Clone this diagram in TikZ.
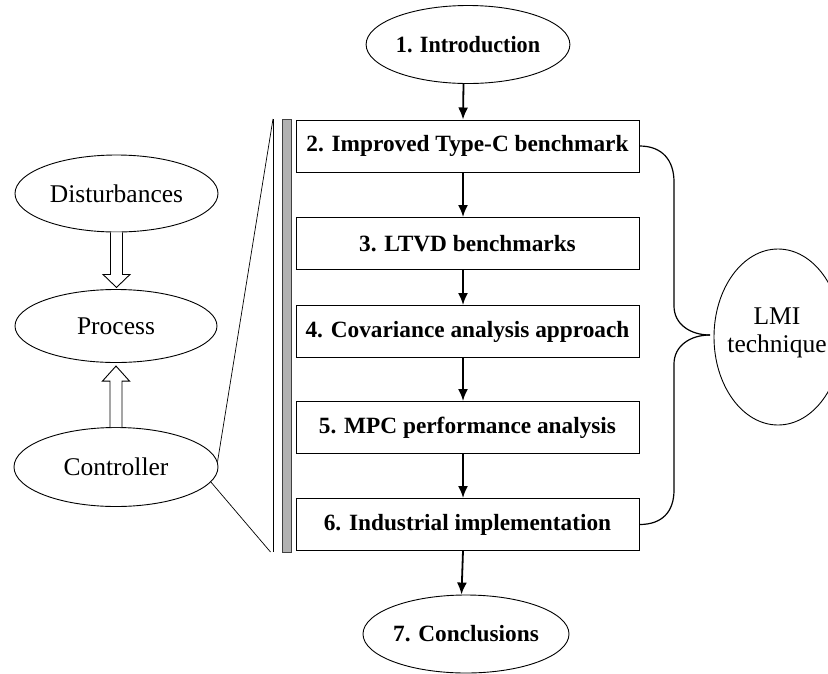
\documentclass[tikz,border=0pt]{standalone}
\usepackage{fontspec}
\setmainfont{Liberation Serif}
\newfontfamily\introfont[FakeStretch=0.95]{Liberation Serif}
\usetikzlibrary{shapes.geometric,arrows.meta,calc}
\tikzset{
  stepbox/.style={draw, line width=1pt, minimum width=343pt, minimum height=52pt, inner sep=0pt,
    font=\fontsize{23.3}{28}\selectfont\bfseries},
  oval/.style={draw, ellipse, line width=0.9pt, inner sep=0pt},
  boldtxt/.style={font=\fontsize{23.3}{28}\selectfont\bfseries},
  regtxt/.style={font=\fontsize{25.5}{30}\selectfont},
  arr/.style={line width=1.8pt, -{Latex[length=12pt,width=10pt]}},
  hollow/.style={draw, line width=0.9pt, fill=white, line join=miter},
  thinline/.style={line width=0.7pt},
}
\begin{document}
\begin{tikzpicture}[x=1pt,y=-1pt]
\useasboundingbox (0,0) rectangle (828,673);
% left ellipses
\node[oval, minimum width=203pt, minimum height=77pt, regtxt] (dist) at (116.5,193.5) {Disturbances};
\node[oval, minimum width=202pt, minimum height=73pt, regtxt] (proc) at (116,326) {Process};
\node[oval, minimum width=204pt, minimum height=79pt, regtxt] (ctrl) at (116,467) {Controller};
% hollow arrows
\draw[hollow] ($(dist.south)+(-6,0)$) -- ++(0,42) -- ++(-7.5,0) -- ++(13.5,13) -- ++(13.5,-13) -- ++(-7.5,0) -- ++(0,-42);
\draw[hollow] ($(ctrl.north)+(-6,0)$) -- ++(0,-46) -- ++(-7.5,0) -- ++(13.5,-15) -- ++(13.5,15) -- ++(-7.5,0) -- ++(0,46);
% main flow
\node[oval, minimum width=202pt, minimum height=78pt, boldtxt] (intro) at (468,44.5) {\introfont\bfseries 1. Introduction};
\node[stepbox] (b2) at (467.5,146) {2. Improved Type-C benchmark};
\node[stepbox] (b3) at (467.5,243.5) {3. LTVD benchmarks\hspace{9pt}};
\node[stepbox] (b4) at (467.5,331.5) {4. Covariance analysis approach};
\node[stepbox] (b5) at (467.5,427.5) {5. MPC performance analysis\hspace{22pt}};
\node[stepbox] (b6) at (467.5,524.5) {6. Industrial implementation};
\node[oval, minimum width=202pt, minimum height=78pt, boldtxt] (concl) at (466,634) {7. Conclusions};
\draw[arr] ([xshift=-4.5pt]intro.south) -- ([xshift=-4.5pt]b2.north);
\draw[arr] ([xshift=-4.5pt]b2.south) -- ([xshift=-4.5pt]b3.north);
\draw[arr] ([xshift=-4.5pt]b3.south) -- ([xshift=-4.5pt]b4.north);
\draw[arr] ([xshift=-4.5pt]b4.south) -- ([xshift=-4.5pt]b5.north);
\draw[arr] ([xshift=-4.5pt]b5.south) -- ([xshift=-4.5pt]b6.north);
\draw[arr] ([xshift=-4.5pt]b6.south) -- ([xshift=-4.5pt]concl.north);
% gray bar and zoom lines
\node[draw=black!75, fill=black!30, line width=0.9pt, minimum width=9pt, minimum height=433pt, inner sep=0pt] (bar) at (286.5,335.5) {};
\coordinate (vtop) at (273,119);
\coordinate (vbot) at (273,552);
\coordinate (vbotd) at (270.5,552);
\draw[thinline] (vtop) -- (vbot);
\draw[thinline] (vtop) -- (ctrl.3);
\draw[thinline] (ctrl.-9) -- (vbotd);
% LMI
\node[oval, minimum width=128pt, minimum height=176pt] (lmi) at (778,337) {};
\node[regtxt, align=center, inner sep=0pt] (lmitxt) at (777,333) {LMI\\[-2pt]technique};
\coordinate (tip) at (710,335);
\draw[line width=1.2pt] (b2.east) .. controls (662,146) and (674,160) .. (674,182) -- (674,306)
  .. controls (674,324) and (690,335) .. (tip);
\draw[line width=1.2pt] (tip) .. controls (690,335) and (674,346) .. (674,364) -- (674,490)
  .. controls (674,512) and (662,524.5) .. (b6.east);
\end{tikzpicture}
\end{document}
